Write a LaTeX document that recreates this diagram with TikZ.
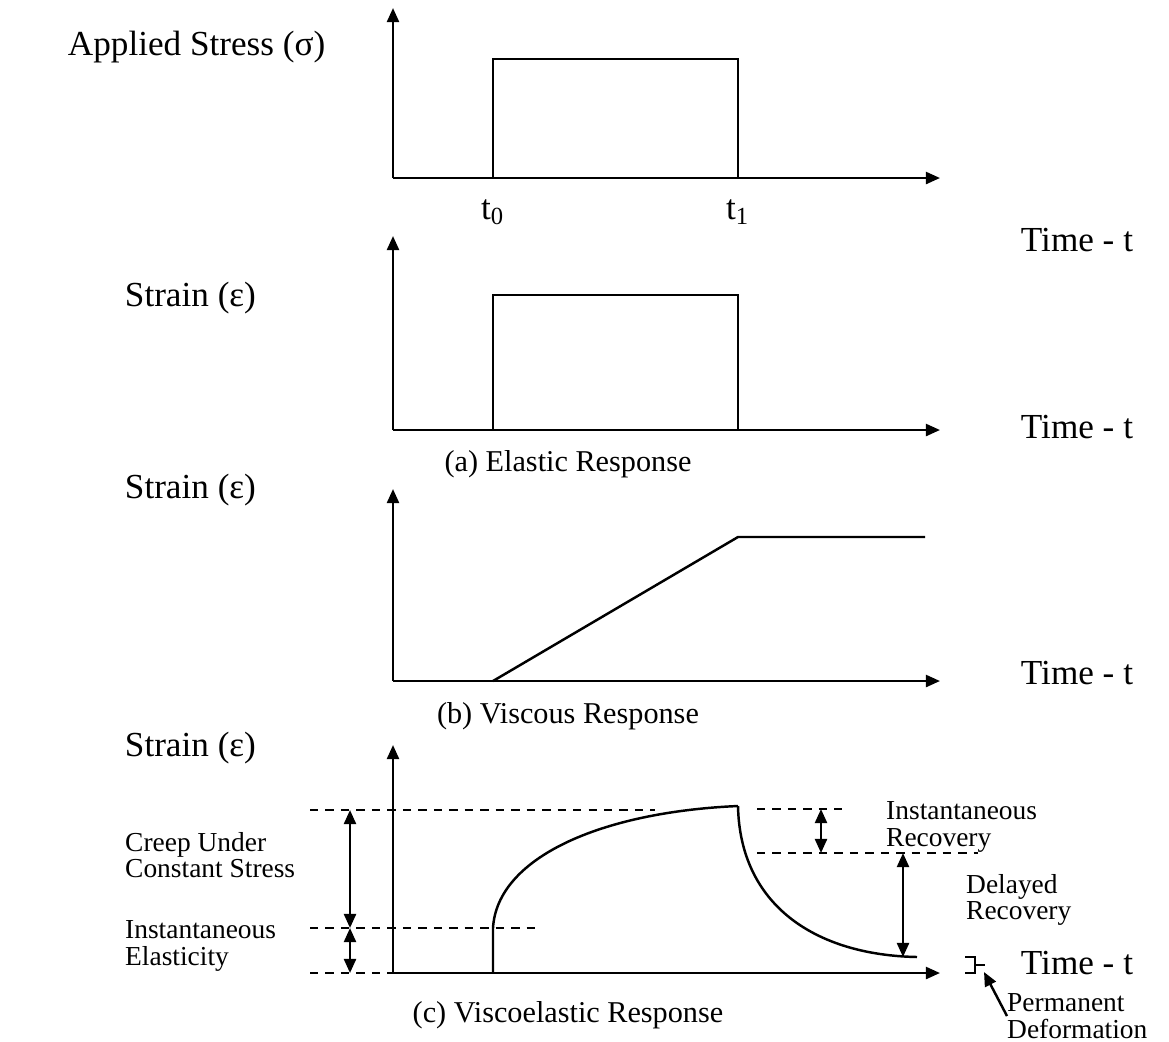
\documentclass[tikz,border=0pt]{standalone}
\usepackage{fontspec}
\setmainfont{Liberation Serif}
\usetikzlibrary{arrows.meta}
\begin{document}
\begin{tikzpicture}[x=0.01cm, y=-0.01cm, line width=0.7pt,
  >={Triangle[length=4pt, width=3.4pt]},
  lbl/.style={font=\fontsize{10}{12}\selectfont},
  captxt/.style={font=\fontsize{8.6}{10}\selectfont},
  note/.style={font=\fontsize{7.8}{7.6}\selectfont, align=left, anchor=west, inner sep=0pt},
  guide/.style={dash pattern=on 2.4pt off 2pt, line width=0.6pt}]
  \useasboundingbox (0, 0) rectangle (1169, 1041);
  % applied stress
  \draw [->] (393, 178) -- (393, 8);
  \draw [->] (393, 178) -- (940, 178);
  \draw (493, 178) -- (493, 59) -- (738, 59) -- (738, 178);
  \node [lbl, anchor=west] at (55, 47) {Applied Stress (σ)};
  \node [lbl] at (493, 212) {t\textsubscript{0}};
  \node [lbl] at (738, 212) {t\textsubscript{1}};
  \node [lbl] at (1077, 240) {Time - t};
  % elastic
  \draw [->] (393, 430) -- (393, 236);
  \draw [->] (393, 430) -- (940, 430);
  \draw (493, 430) -- (493, 295) -- (738, 295) -- (738, 430);
  \node [lbl, anchor=west] at (112, 298) {Strain (ε)};
  \node [lbl] at (1077, 427) {Time - t};
  \node [captxt] at (568, 464) {(a) Elastic Response};
  % viscous
  \draw [->] (393, 681) -- (393, 489);
  \draw [->] (393, 681) -- (940, 681);
  \draw (493, 681) -- (738, 537) -- (925, 537);
  \node [lbl, anchor=west] at (112, 490) {Strain (ε)};
  \node [lbl] at (1077, 673) {Time - t};
  \node [captxt] at (568, 716) {(b) Viscous Response};
  % viscoelastic
  \draw [->] (393, 973) -- (393, 745);
  \draw [->] (393, 973) -- (940, 973);
  \draw (493, 973) -- (493, 928) .. controls (497, 858) and (600, 812) .. (738, 806);
  \draw (738, 806) .. controls (740, 905) and (815, 955) .. (917, 957);
  \draw [guide] (310, 810) -- (655, 810);
  \draw [guide] (310, 928) -- (535, 928);
  \draw [guide] (310, 973) -- (393, 973);
  \draw [guide] (757, 809) -- (842, 809);
  \draw [guide] (757, 853) -- (978, 853);
  \draw [<->] (350, 810) -- (350, 928);
  \draw [<->] (350, 928) -- (350, 973);
  \draw [<->] (821, 809) -- (821, 853);
  \draw [<->] (903, 853) -- (903, 957);
  \draw (965, 957) -- (975, 957) -- (975, 973) -- (965, 973);
  \draw (975, 965) -- (985, 965);
  \draw [->] (1007, 1016) -- (984, 972);
  \node [lbl, anchor=west] at (112, 748) {Strain (ε)};
  \node [lbl] at (1077, 963) {Time - t};
  \node [captxt] at (568, 1015) {(c) Viscoelastic Response};
  \node [note] at (124, 855) {Creep Under\\Constant Stress};
  \node [note] at (124, 946) {Instantaneous\\Elasticity};
  \node [note] at (885, 827) {Instantaneous\\Recovery};
  \node [note] at (965, 900) {Delayed\\Recovery};
  \node [note] at (1006, 1016) {Permanent\\Deformation};
\end{tikzpicture}
\end{document}
